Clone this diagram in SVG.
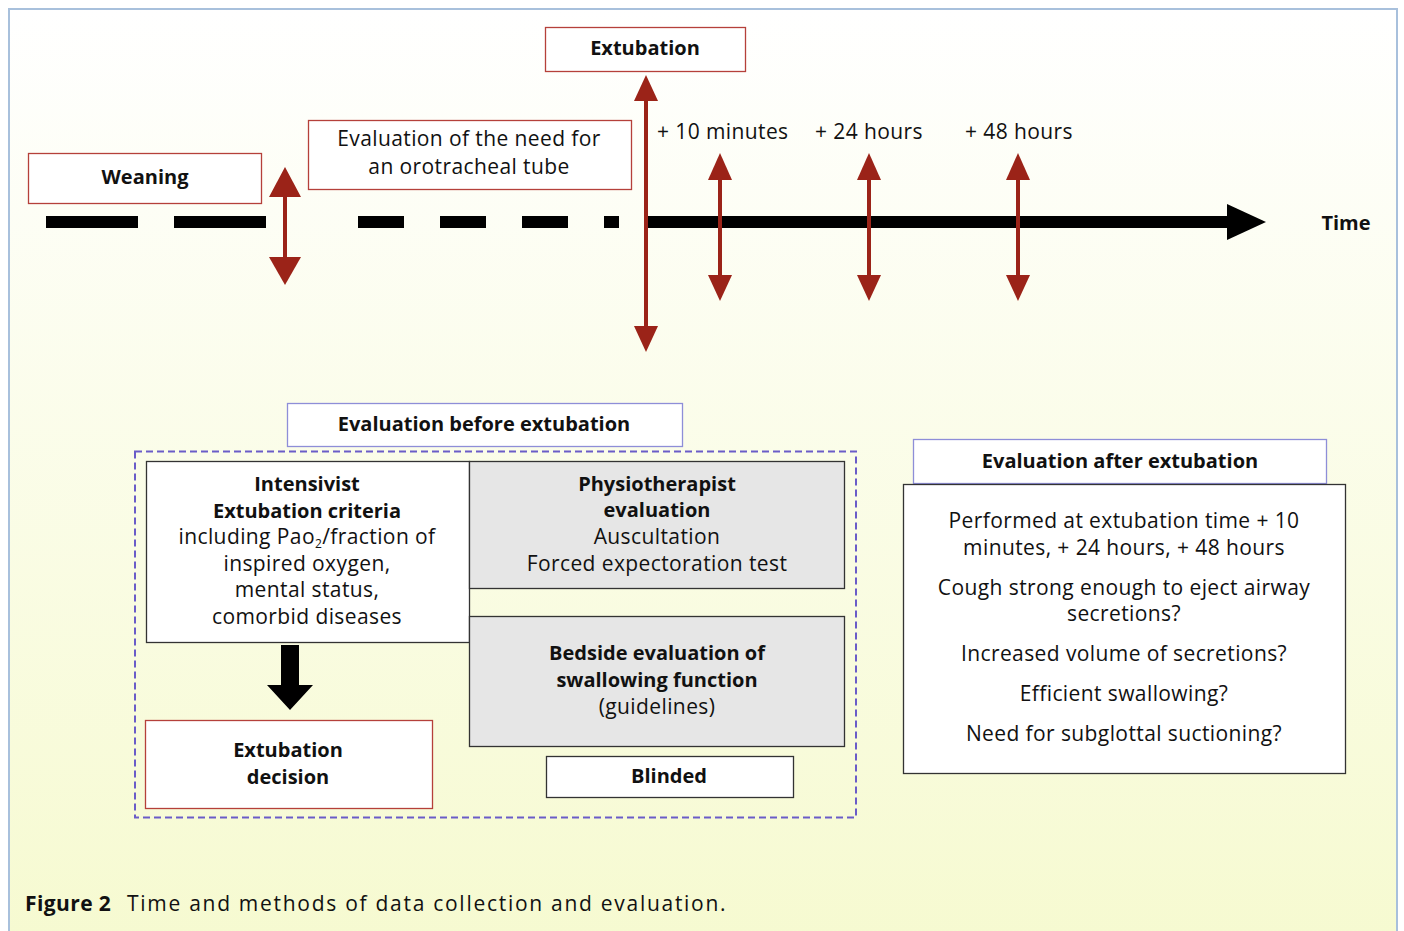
<svg xmlns="http://www.w3.org/2000/svg" width="1404" height="931" viewBox="0 0 1404 931">
<defs>
<linearGradient id="bg" x1="0" y1="0" x2="0" y2="1">
<stop offset="0" stop-color="#ffffff"/>
<stop offset="1" stop-color="#f6fad0"/>
</linearGradient>
<style>
text{font-family:"Open Sans","Noto Sans",sans-serif;font-size:21px;letter-spacing:0.4px;fill:#111;text-anchor:middle}
.b{font-weight:bold;font-size:20px;letter-spacing:0}
.l{text-anchor:start}
.red{fill:#fff;stroke:#b5403a;stroke-width:1.3}
.pur{fill:#fff;stroke:#8e8ed8;stroke-width:1.3}
.blk{fill:#fff;stroke:#333;stroke-width:1.3}
.gry{fill:#e6e6e6;stroke:#333;stroke-width:1.3}
.ra{fill:#9b2318}
</style>
</defs>
<rect x="0" y="0" width="1404" height="931" fill="#ffffff"/>
<rect x="9" y="9" width="1388" height="940" fill="url(#bg)" stroke="#a8c0dc" stroke-width="2"/>

<g id="timeline">
<rect x="46" y="216" width="92" height="12" fill="#000"/>
<rect x="174" y="216" width="92" height="12" fill="#000"/>
<rect x="358" y="216" width="46" height="12" fill="#000"/>
<rect x="440" y="216" width="46" height="12" fill="#000"/>
<rect x="522" y="216" width="46" height="12" fill="#000"/>
<rect x="604" y="216" width="15" height="12" fill="#000"/>
<rect x="648" y="216" width="582" height="12" fill="#000"/>
<polygon points="1227,204 1266,222 1227,240" fill="#000"/>
<text x="1346" y="230" class="b">Time</text>
</g>

<g id="connectors">
<g id="arrow-weaning" class="ra">
<rect x="283" y="194" width="4" height="66"/>
<polygon points="285,167 301,197 269,197"/>
<polygon points="285,285 301,257 269,257"/>
</g>
<g id="arrow-extubation" class="ra">
<rect x="644" y="98" width="4" height="230"/>
<polygon points="646,75 658,101 634,101"/>
<polygon points="646,352 658,326 634,326"/>
</g>
<g id="arrow-10min" class="ra">
<rect x="718" y="177" width="4" height="100"/>
<polygon points="720,153 732,180 708,180"/>
<polygon points="720,301 732,275 708,275"/>
</g>
<g id="arrow-24h" class="ra">
<rect x="867" y="177" width="4" height="100"/>
<polygon points="869,153 881,180 857,180"/>
<polygon points="869,301 881,275 857,275"/>
</g>
<g id="arrow-48h" class="ra">
<rect x="1016" y="177" width="4" height="100"/>
<polygon points="1018,153 1030,180 1006,180"/>
<polygon points="1018,301 1030,275 1006,275"/>
</g>
<polygon id="arrow-decision" points="281,645 299,645 299,685 313,685 290,710 267,685 281,685" fill="#000"/>
</g>

<g id="labels-time">
<text x="657" y="139" class="l">+ 10 minutes</text>
<text x="815" y="139" class="l">+ 24 hours</text>
<text x="965" y="139" class="l">+ 48 hours</text>
</g>

<g id="weaning">
<rect x="28.5" y="153.5" width="233" height="50" class="red"/>
<text x="145" y="184" class="b">Weaning</text>
</g>
<g id="eval-tube">
<rect x="308.5" y="120.5" width="323" height="69" class="red"/>
<text x="469" y="146">Evaluation of the need for</text>
<text x="469" y="174">an orotracheal tube</text>
</g>
<g id="extubation">
<rect x="545.5" y="27.5" width="200" height="44" class="red"/>
<text x="645" y="55" class="b">Extubation</text>
</g>

<g id="before-header">
<rect x="287.5" y="403.5" width="395" height="43" class="pur"/>
<text x="484" y="431" class="b">Evaluation before extubation</text>
</g>
<g id="before-group">
<rect x="135" y="451.5" width="721" height="366" fill="none" stroke="#6a5cc8" stroke-width="2" stroke-dasharray="7,4"/>
</g>
<g id="intensivist">
<rect x="146.5" y="461.5" width="323" height="181" class="blk"/>
<text x="307" y="491" class="b">Intensivist</text>
<text x="307" y="518" class="b">Extubation criteria</text>
<text x="307" y="544">including Pao<tspan font-size="12" dy="4">2</tspan><tspan dy="-4">/fraction of</tspan></text>
<text x="307" y="571">inspired oxygen,</text>
<text x="307" y="597">mental status,</text>
<text x="307" y="624">comorbid diseases</text>
</g>
<g id="physio">
<rect x="469.5" y="461.5" width="375" height="127" class="gry"/>
<text x="657" y="491" class="b">Physiotherapist</text>
<text x="657" y="517" class="b">evaluation</text>
<text x="657" y="544">Auscultation</text>
<text x="657" y="571">Forced expectoration test</text>
</g>
<g id="bedside">
<rect x="469.5" y="616.5" width="375" height="130" class="gry"/>
<text x="657" y="660" class="b">Bedside evaluation of</text>
<text x="657" y="687" class="b">swallowing function</text>
<text x="657" y="714">(guidelines)</text>
</g>
<g id="blinded">
<rect x="546.5" y="756.5" width="247" height="41" class="blk"/>
<text x="669" y="783" class="b">Blinded</text>
</g>
<g id="decision">
<rect x="145.5" y="720.5" width="287" height="88" class="red"/>
<text x="288" y="757" class="b">Extubation</text>
<text x="288" y="784" class="b">decision</text>
</g>

<g id="after-header">
<rect x="913.5" y="439.5" width="413" height="44" class="pur"/>
<text x="1120" y="468" class="b">Evaluation after extubation</text>
</g>
<g id="after-box">
<rect x="903.5" y="484.5" width="442" height="289" class="blk"/>
<text x="1124" y="528">Performed at extubation time + 10</text>
<text x="1124" y="555">minutes, + 24 hours, + 48 hours</text>
<text x="1124" y="595">Cough strong enough to eject airway</text>
<text x="1124" y="621">secretions?</text>
<text x="1124" y="661">Increased volume of secretions?</text>
<text x="1124" y="701">Efficient swallowing?</text>
<text x="1124" y="741">Need for subglottal suctioning?</text>
</g>

<g id="caption">
<text x="25" y="911" class="l" font-size="26" font-weight="bold" letter-spacing="0.4">Figure 2</text>
<text x="127" y="911" class="l" font-size="27" textLength="599" lengthAdjust="spacing">Time and methods of data collection and evaluation.</text>
</g>
</svg>
